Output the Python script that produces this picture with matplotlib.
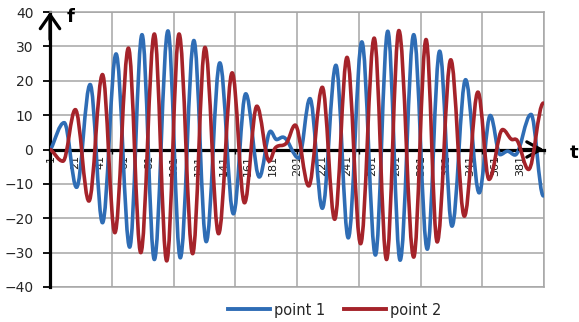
import numpy as np
import matplotlib
matplotlib.use("Agg")
import matplotlib.pyplot as plt
from matplotlib.path import Path
from matplotlib.patches import PathPatch
from matplotlib.lines import Line2D

# turning points (sample index, f value)
blue_x = [1, 12, 22, 33, 43, 54, 65, 75, 85, 96, 106, 117, 127, 138, 149, 159,
          170, 179, 184, 189, 202, 211, 221, 232, 242, 253, 264, 274, 284, 295,
          306, 316, 326, 337, 348, 357, 365, 371, 377, 390, 400]
blue_y = [0, 7.8, -11.0, 18.9, -21.3, 27.8, -28.4, 33.4, -32.0, 34.5, -31.5,
          31.7, -26.8, 25.2, -18.7, 16.2, -8.0, 5.3, 2.9, 3.6, -2.5, 14.8, -17.1,
          24.5, -25.7, 31.3, -30.7, 34.4, -32.2, 33.4, -29.0, 28.6, -22.3, 20.3,
          -12.6, 9.9, -1.5, -0.5, -1.6, 10.2, -13.5]

red_x = [1, 11, 21, 32, 43, 53, 64, 74, 85, 95, 105, 116, 126, 137, 148, 158,
         168, 178, 183, 192, 199, 210, 221, 231, 241, 252, 263, 273, 283, 295,
         305, 314, 325, 336, 347, 356, 367, 374, 379, 388, 400]
red_y = [0, -3.4, 11.6, -15.0, 21.8, -24.2, 29.5, -30.0, 33.6, -32.4, 33.6,
         -30.3, 29.7, -24.5, 22.3, -15.5, 12.6, -3.4, 0.5, 1.9, 7.1, -10.6, 18.1,
         -20.3, 26.8, -27.4, 32.4, -32.0, 34.6, -31.3, 32.0, -26.9, 26.1, -19.4,
         16.7, -8.7, 5.8, 3.0, 2.5, -5.8, 13.5]

x_labels = list(range(1, 400, 20))
y_ticks = list(range(-40, 41, 10))
grid_x = [50.5 + 50 * k for k in range(8)]

BLUE = '#2f6db5'
RED = '#a5232a'
GRID = '#a6a6a6'


def smooth_path(xs, ys, k=0.364):
    # smoothed line (bezier) through the points, flat at turning points
    xs = np.asarray(xs, float)
    ys = np.asarray(ys, float)
    n = len(xs)
    m = np.zeros(n)
    m[0] = (ys[1] - ys[0]) / (xs[1] - xs[0])
    for i in range(1, n - 1):
        s0 = (ys[i] - ys[i - 1]) / (xs[i] - xs[i - 1])
        s1 = (ys[i + 1] - ys[i]) / (xs[i + 1] - xs[i])
        if s0 * s1 > 0:
            m[i] = (ys[i + 1] - ys[i - 1]) / (xs[i + 1] - xs[i - 1])
    verts = [(xs[0], ys[0])]
    codes = [Path.MOVETO]
    for i in range(n - 1):
        d = xs[i + 1] - xs[i]
        verts += [(xs[i] + k * d, ys[i] + m[i] * k * d),
                  (xs[i + 1] - k * d, ys[i + 1] - m[i + 1] * k * d),
                  (xs[i + 1], ys[i + 1])]
        codes += [Path.CURVE4] * 3
    return Path(verts, codes)


plt.rcParams['font.family'] = 'DejaVu Sans'
fig = plt.figure(figsize=(5.79, 3.22), dpi=100)
ax = fig.add_axes([50 / 579, 1 - 287 / 322, 494 / 579, 275 / 322])

ax.add_patch(PathPatch(smooth_path(blue_x, blue_y), fill=False, edgecolor=BLUE,
                       lw=2.6, capstyle='round', joinstyle='round', zorder=3))
ax.add_patch(PathPatch(smooth_path(red_x, red_y), fill=False, edgecolor=RED,
                       lw=2.6, capstyle='round', joinstyle='round', zorder=3.1))

ax.set_xlim(0.5, 400.5)
ax.set_ylim(-40, 40)

ax.set_yticks(y_ticks)
ax.tick_params(axis='y', length=5, width=1.3, pad=7, labelsize=10,
               labelcolor='#262626', color='black')

ax.spines['bottom'].set_position(('data', 0))
ax.spines['bottom'].set_color('black')
ax.spines['bottom'].set_linewidth(2.3)
ax.spines['left'].set_color('black')
ax.spines['left'].set_linewidth(2.3)
for s in ['top', 'right']:
    ax.spines[s].set_color(GRID)
    ax.spines[s].set_linewidth(1.1)

ax.set_xticks(x_labels)
ax.set_xticklabels([str(v) for v in x_labels], rotation=90, fontsize=8,
                   color='#1a1a1a')
ax.tick_params(axis='x', which='major', length=0, pad=4)
ax.set_xticks(grid_x, minor=True)
ax.tick_params(axis='x', which='minor', length=3, width=1, color='black')

ax.grid(True, axis='y', color=GRID, lw=1.1)
ax.grid(True, axis='x', which='minor', color=GRID, lw=1.1)
ax.axhline(-40, color=GRID, lw=1.1, clip_on=False, zorder=1.5)

# arrow heads on the axes
ax.annotate('', xy=(0, 1), xytext=(0, 0.9), xycoords='axes fraction',
            arrowprops=dict(arrowstyle='->,head_length=1.0,head_width=0.7',
                            mutation_scale=10, lw=2.3, color='black',
                            shrinkA=0, shrinkB=0), annotation_clip=False)
ax.annotate('', xy=(1, 0), xytext=(0.95, 0),
            xycoords=('axes fraction', 'data'),
            arrowprops=dict(arrowstyle='->,head_length=1.0,head_width=0.55',
                            mutation_scale=10, lw=2.3, color='black',
                            shrinkA=0, shrinkB=0), annotation_clip=False)
ax.annotate('f', xy=(0, 1), xycoords='axes fraction', xytext=(12, -3.5),
            textcoords='offset points', fontsize=13, fontweight='bold',
            ha='left', va='center')
ax.annotate('t', xy=(1, 0), xycoords=('axes fraction', 'data'),
            xytext=(22, -2.5), textcoords='offset points', fontsize=13,
            fontweight='bold', ha='center', va='center', annotation_clip=False)

handles = [Line2D([], [], color=BLUE, lw=2.8), Line2D([], [], color=RED, lw=2.8)]
fig.legend(handles, ['point 1', 'point 2'], loc='center',
           bbox_to_anchor=(0.578, 0.037), ncol=2, frameon=False, fontsize=10.5,
           handlelength=2.9, handletextpad=0.25, columnspacing=1.3,
           labelcolor='#262626')

fig.savefig('out.png', dpi=100)
